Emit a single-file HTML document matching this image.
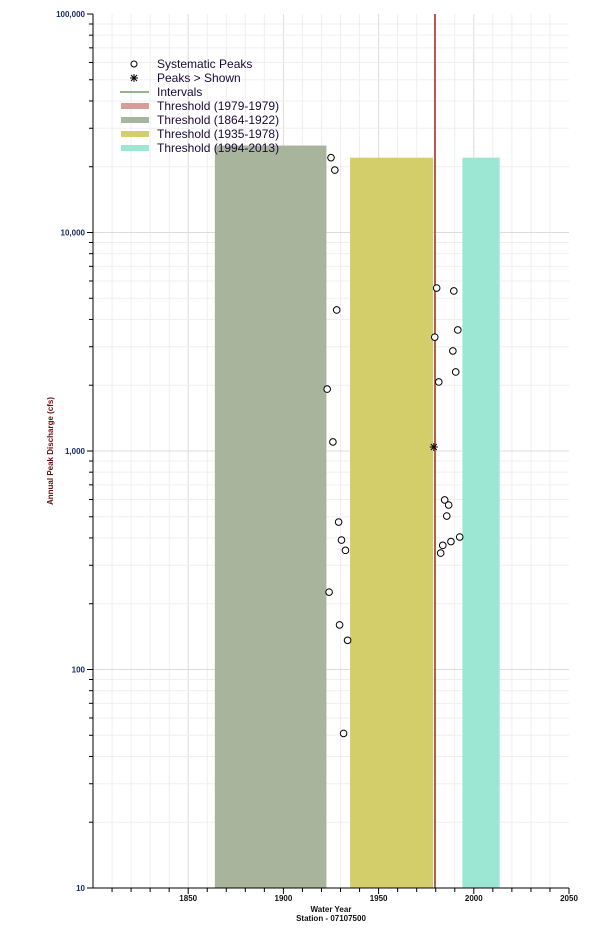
<!DOCTYPE html>
<html><head><meta charset="utf-8"><style>
html,body{margin:0;padding:0;background:#fff;}
svg{display:block;font-family:"Liberation Sans",Arial,sans-serif;}
</style></head><body>
<svg id="chart" width="601" height="937" viewBox="0 0 601 937"></svg>
<script>
const bandLabels=["Threshold (1979-1979)","Threshold (1864-1922)","Threshold (1935-1978)","Threshold (1994-2013)"];
const bandStart=[1979,1864,1935,1994];
const bandEnd=[1979,1922,1978,2013];
const bandValue=[100000,25000,22000,22000];
const bandFill=["#d89c98","#a8b49c","#d4ce6a","#9ce6d4"];
const peakYears=[1925,1927,1928,1923,1926,1929,1930.5,1932.6,1924,1929.5,1933.7,1931.6,1980.5,1989.5,1979.5,1991.6,1989,1990.5,1981.6,1984.7,1986.8,1985.8,1992.6,1988,1983.7,1982.6];
const peakValues=[22000,19300,4420,1920,1100,473,391,351,226,160,136,51,5570,5400,3320,3580,2870,2300,2070,597,566,504,404,385,370,341];
const censoredYears=[1979];
const censoredValues=[1043];
const xTicks=[1850,1900,1950,2000,2050];
const yTicks=[10,100,1000,10000,100000];
const yTickLabels=["10","100","1,000","10,000","100,000"];

const NS="http://www.w3.org/2000/svg";
const svg=document.getElementById('chart');
const L=93,R=569,T=14,B=888;
const xMin=1800,xMax=2050;
const x=v=>L+(v-xMin)/(xMax-xMin)*(R-L);
const y=v=>B-(Math.log10(v)-1)/4*(B-T);
function el(tag,attrs,parent){const e=document.createElementNS(NS,tag);for(const k in attrs)e.setAttribute(k,attrs[k]);(parent||svg).appendChild(e);return e;}

const grid=el('g',{});


for(let yr=1810;yr<2050;yr+=10){el('line',{x1:x(yr),x2:x(yr),y1:T,y2:B,stroke:yr%50==0?'#dcdcdc':'#efefef','stroke-width':1},grid);}
for(let d=10;d<100000;d*=10){for(let m=1;m<10;m++){const v=d*m;if(v<=10)continue;el('line',{x1:L,x2:R,y1:y(v),y2:y(v),stroke:m==1?'#dcdcdc':'#efefef','stroke-width':1},grid);}}

// bands
for(let i=1;i<bandStart.length;i++){
  const x0=x(bandStart[i]),x1=x(bandEnd[i]+0.6);
  const r=el('rect',{x:x0,y:y(bandValue[i]),width:x1-x0,height:B-y(bandValue[i]),fill:bandFill[i]});
  
  
}
const rl=el('line',{x1:x(bandStart[0]+0.6),x2:x(bandStart[0]+0.6),y1:y(bandValue[0]),y2:B,stroke:'#b05a50','stroke-width':2});



// axes
const ax=el('g',{});


el('line',{x1:L,x2:L,y1:T,y2:B,stroke:'#000'},ax);
el('line',{x1:L,x2:R,y1:B,y2:B,stroke:'#000'},ax);
for(let yr=1810;yr<=2050;yr+=10){el('line',{x1:x(yr),x2:x(yr),y1:B,y2:B+(yr%50==0?6:4),stroke:'#000'},ax);}
for(let d=10;d<=100000;d*=10){for(let m=1;m<10;m++){const v=d*m;if(v>100000)break;el('line',{x1:L-(m==1?6:4),x2:L,y1:y(v),y2:y(v),stroke:'#000'},ax);}}
xTicks.forEach(t=>{const tx=el('text',{x:x(t),y:B+13,'font-size':8,'text-anchor':'middle',fill:'#111','font-weight':'bold'},ax);tx.textContent=t;

});
yTicks.forEach((t,i)=>{const tx=el('text',{x:L-8,y:y(t)+3,'font-size':8,'text-anchor':'end',fill:'#1a2a6a','font-weight':'bold'},ax);tx.textContent=yTickLabels[i];

});
const xt=el('text',{x:331,y:912,'font-size':8,'text-anchor':'middle','font-weight':'bold',fill:'#111'});xt.textContent='Water Year';


const xt2=el('text',{x:331,y:921,'font-size':8,'text-anchor':'middle','font-weight':'bold',fill:'#111'});xt2.textContent='Station - 07107500';


const yt=el('text',{x:0,y:0,'font-size':8,'text-anchor':'middle','font-weight':'bold',fill:'#6a1010',transform:'translate(53,451) rotate(-90)'});yt.textContent='Annual Peak Discharge (cfs)';



// points
peakYears.forEach((yr,i)=>{const c=el('circle',{cx:x(yr),cy:y(peakValues[i]),r:3.3,fill:'#fff',stroke:'#000','stroke-width':1});

});
censoredYears.forEach((yr,i)=>{const cx=x(yr),cy=y(censoredValues[i]);const g=el('g',{stroke:'#000','stroke-width':1});


el('line',{x1:cx-4,x2:cx+4,y1:cy,y2:cy},g);el('line',{x1:cx,x2:cx,y1:cy-4,y2:cy+4},g);
el('line',{x1:cx-3,x2:cx+3,y1:cy-3,y2:cy+3},g);el('line',{x1:cx-3,x2:cx+3,y1:cy+3,y2:cy-3},g);});

// legend
const lg=el('g',{});


const ly=[64,78,92,106,120,134,148];
el('circle',{cx:134,cy:ly[0],r:3,fill:'#fff',stroke:'#000'},lg);
{const cx=134,cy=ly[1];el('line',{x1:cx-4,x2:cx+4,y1:cy,y2:cy,stroke:'#000'},lg);el('line',{x1:cx,x2:cx,y1:cy-4,y2:cy+4,stroke:'#000'},lg);el('line',{x1:cx-3,x2:cx+3,y1:cy-3,y2:cy+3,stroke:'#000'},lg);el('line',{x1:cx-3,x2:cx+3,y1:cy+3,y2:cy-3,stroke:'#000'},lg);}
el('line',{x1:120,x2:149,y1:ly[2],y2:ly[2],stroke:'#2a6a1a'},lg);
bandFill.forEach((f,i)=>{el('rect',{x:121,y:ly[3+i]-3,width:28,height:6,fill:f},lg);});
const labs=["Systematic Peaks","Peaks > Shown","Intervals"].concat(bandLabels);
labs.forEach((s,i)=>{const t=el('text',{x:157,y:ly[i]+4,'font-size':12,fill:'#1a0a3a'},lg);t.textContent=s;

});
</script>
</body></html>
